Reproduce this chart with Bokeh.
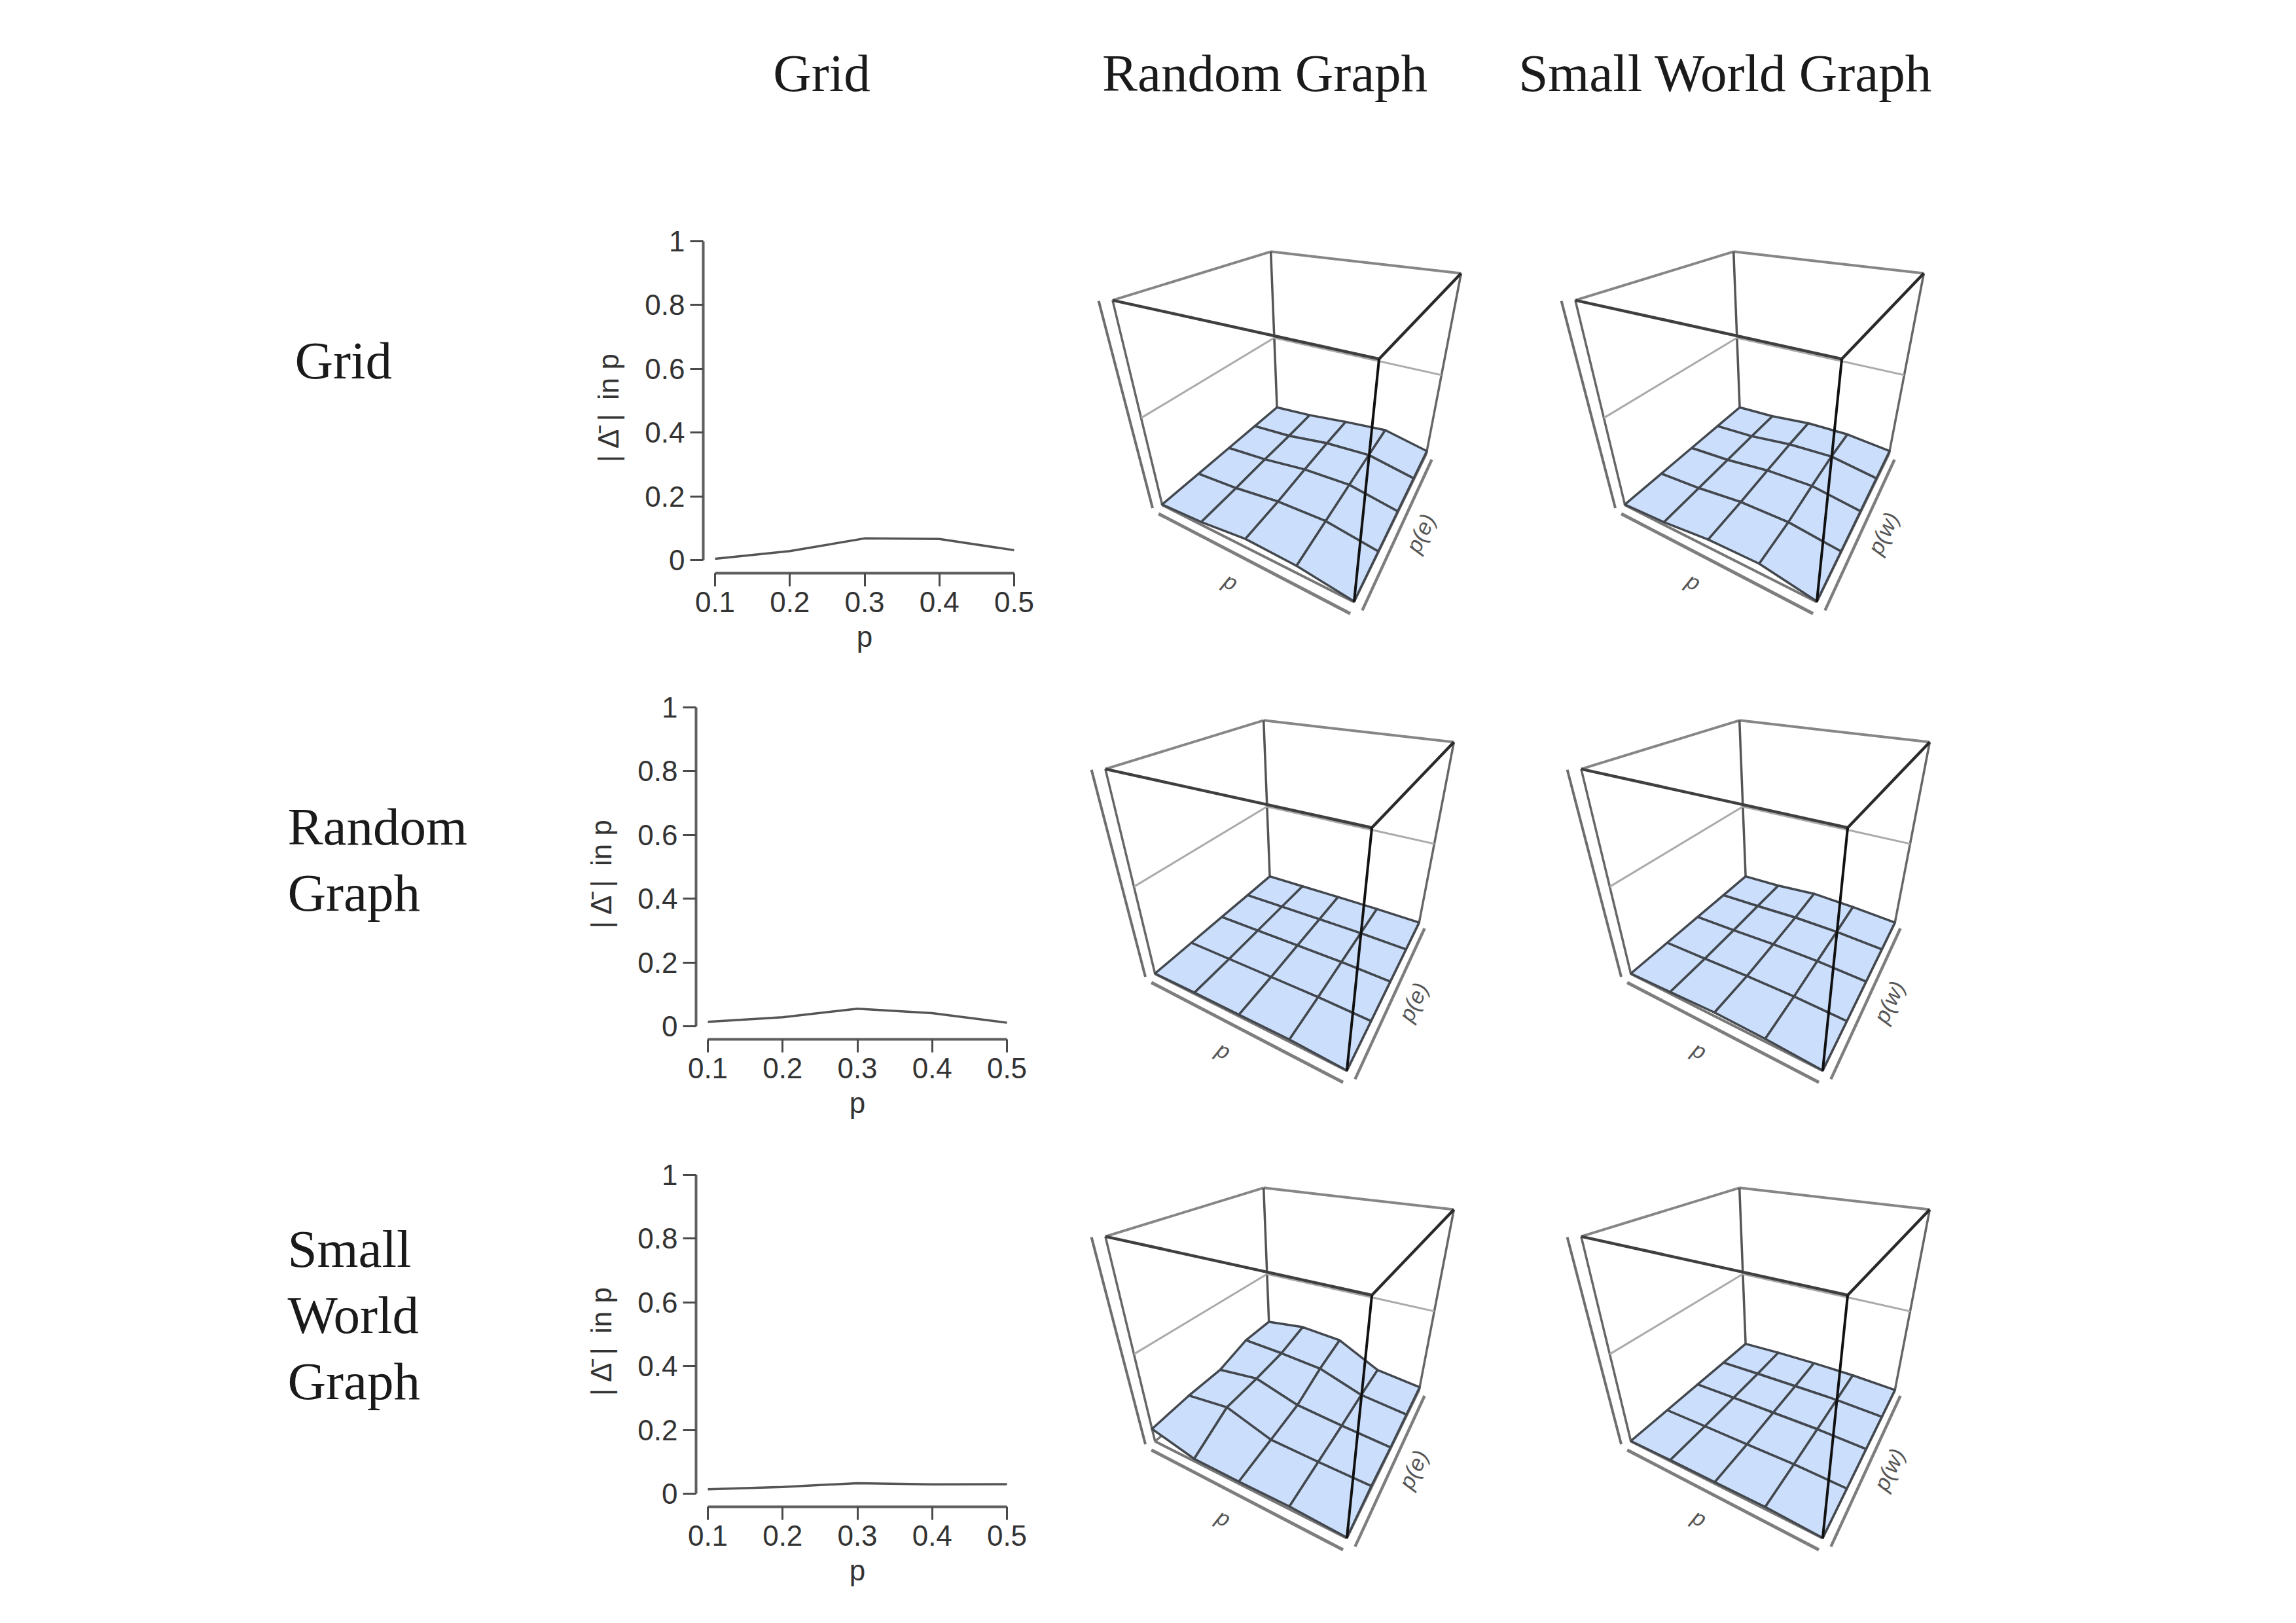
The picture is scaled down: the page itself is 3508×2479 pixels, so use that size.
import numpy as np
from bokeh.embed import file_html
from bokeh.resources import INLINE
from bokeh.plotting import figure
from bokeh.layouts import column, row
from bokeh.models import FixedTicker, Range1d
from bokeh.core.properties import value

# ---------- data ----------
GRAPHS = ["Grid", "Random Graph", "Small World Graph"]
ROW_LABELS = [["Grid"], ["Random", "Graph"], ["Small", "World", "Graph"]]
P_VALUES = [0.1, 0.2, 0.3, 0.4, 0.5]
Y_TICKS = [0, 0.2, 0.4, 0.6, 0.8, 1]
Y_TICK_LABELS = ["0", "0.2", "0.4", "0.6", "0.8", "1"]

LINE_GRID = [0.004, 0.028, 0.068, 0.066, 0.031]
LINE_RANDOM = [0.014, 0.028, 0.055, 0.041, 0.011]
LINE_SMALL = [0.014, 0.021, 0.033, 0.029, 0.030]

# rows: second parameter (0 -> 1 along the depth axis); columns: p
Z_GRID_RANDOM = [[.004, .020, .054, .044, .004],
                 [.004, .018, .049, .054, .008],
                 [.004, .021, .055, .063, .013],
                 [.004, .019, .057, .071, .018],
                 [.004, .022, .053, .078, .022]]
Z_GRID_SMALL = [[.004, .019, .050, .057, .004],
                [.004, .018, .046, .047, .008],
                [.004, .017, .048, .056, .013],
                [.004, .016, .049, .061, .018],
                [.004, .014, .043, .048, .022]]
Z_RANDOM_RANDOM = [[.002, .008, .010, .014, .002],
                   [.002, .004, .006, .008, .002],
                   [.002, .004, .006, .008, .003],
                   [.002, .004, .006, .007, .003],
                   [.002, .004, .006, .006, .003]]
Z_RANDOM_SMALL = [[.002, .012, .024, .018, .002],
                  [.002, .006, .012, .012, .002],
                  [.002, .006, .014, .014, .003],
                  [.002, .008, .018, .016, .003],
                  [.002, .009, .030, .020, .003]]
Z_SMALL_RANDOM = [[.080, .016, .014, .017, .004],
                  [.100, .128, .036, .025, .018],
                  [.105, .136, .059, .033, .013],
                  [.165, .152, .131, .046, .018],
                  [.170, .200, .180, .052, .022]]
Z_SMALL_SMALL = [[.002, .008, .010, .014, .002],
                 [.002, .005, .007, .010, .002],
                 [.002, .006, .008, .010, .003],
                 [.002, .007, .010, .012, .003],
                 [.002, .012, .016, .014, .003]]

# ---------- layout ----------
SERIF = "Liberation Serif"
SANS = "Liberation Sans"
FILL = "#CBDFFC"
ROW_H = 716
ROW_TOPS = [300, 1016, 1732]
HEADER_TOP = 8
SURF_COL_X = [1640, 2330, 3100]

# cube corners of the top-middle panel on the page: (u, v, z)->(x, y)
CUBE_WORLD = [(0, 0, 0), (1, 0, 0), (1, 1, 0), (0, 1, 0),
              (0, 0, 1), (1, 0, 1), (1, 1, 1), (0, 1, 1)]
CUBE_PAGE = [(1784.0, 778.6), (2074.8, 928.2), (2187.4, 699.4), (1958.3, 631.7),
             (1707.7, 465.3), (2115.0, 555.9), (2239.9, 426.3), (1948.7, 391.3)]


def fit_camera(world, page):
    rows_, rhs = [], []
    for (u, v, z), (x, y) in zip(world, page):
        rows_.append([u, v, z, 1, 0, 0, 0, 0, -x * u, -x * v, -x * z]); rhs.append(x)
        rows_.append([0, 0, 0, 0, u, v, z, 1, -y * u, -y * v, -y * z]); rhs.append(y)
    sol = np.linalg.lstsq(np.array(rows_, float), np.array(rhs, float), rcond=None)[0]
    return np.append(sol, 1.0).reshape(3, 4)


CAMERA = fit_camera(CUBE_WORLD, CUBE_PAGE)


def project(u, v, z, dx=0.0, dy=0.0):
    h = CAMERA @ np.array([u, v, z, 1.0])
    return h[0] / h[2] + dx, h[1] / h[2] + dy


def blank(x0, x1, y0, y1):
    p = figure(width=int(x1 - x0), height=int(y1 - y0), output_backend="svg",
               toolbar_location=None, x_axis_location=None, y_axis_location=None,
               x_range=Range1d(x0, x1), y_range=Range1d(y1, y0),
               min_border=0, outline_line_color=None, background_fill_color=None,
               border_fill_color=None)
    p.grid.visible = False
    return p


def seg(p, a, b, dx, dy, color, width):
    pa, pb = project(*a, dx, dy), project(*b, dx, dy)
    p.line([pa[0], pb[0]], [pa[1], pb[1]], line_color=color, line_width=width)


def surface_panel(zs, depth_label, x0, x1, y0, y1, dx, dy):
    p = blank(x0, x1, y0, y1)
    # outer axes
    seg(p, (-.035, -.03, -.01), (-.035, -.03, 1.0), dx, dy, "#6E6E6E", 4)
    seg(p, (0, -.03, -.03), (1, -.03, -.03), dx, dy, "#7E7E7E", 5)
    seg(p, (1.035, 0, -.025), (1.035, 1, -.025), dx, dy, "#7E7E7E", 4.5)
    # back of the box
    seg(p, (0, 0, 1), (0, 1, 1), dx, dy, "#868686", 4)
    seg(p, (0, 1, 1), (1, 1, 1), dx, dy, "#868686", 4)
    seg(p, (0, 0, 0), (0, 0, 1), dx, dy, "#666666", 3.5)
    seg(p, (0, 1, 0), (0, 1, 1), dx, dy, "#555555", 3.5)
    seg(p, (1, 1, 0), (1, 1, 1), dx, dy, "#666666", 3.5)
    # floor of the box
    seg(p, (0, 0, 0), (1, 0, 0), dx, dy, "#777777", 4)
    seg(p, (1, 0, 0), (1, 1, 0), dx, dy, "#777777", 3.5)
    seg(p, (1, 1, 0), (0, 1, 0), dx, dy, "#777777", 3.5)
    seg(p, (0, 1, 0), (0, 0, 0), dx, dy, "#777777", 3.5)
    # mid level reference line on the back walls
    seg(p, (0, 0, .5), (0, 1, .5), dx, dy, "#AAAAAA", 3)
    seg(p, (0, 1, .5), (1, 1, .5), dx, dy, "#AAAAAA", 3)
    # surface, back to front
    zarr = np.array(zs, float)
    n = zarr.shape[0]
    xs, ys = [], []
    for j in range(n - 2, -1, -1):
        for i in range(n - 1):
            corners = [(i, j), (i + 1, j), (i + 1, j + 1), (i, j + 1)]
            pts = [project(a / (n - 1), b / (n - 1), zarr[b, a], dx, dy) for a, b in corners]
            xs.append([c[0] for c in pts])
            ys.append([c[1] for c in pts])
    p.patches(xs, ys, fill_color=FILL, line_color="#43474E", line_width=3.5, line_join="round")
    # front of the box
    seg(p, (0, 0, 1), (1, 0, 1), dx, dy, "#3F3F3F", 4.5)
    seg(p, (1, 0, 1), (1, 1, 1), dx, dy, "#2A2A2A", 4.5)
    seg(p, (1, 0, 0), (1, 0, 1), dx, dy, "#111111", 4)
    # axis names
    p.text([1888 + dx], [896 + dy], text=["p"], angle=-0.48, text_align="center",
           text_baseline="middle", text_font=value(SANS), text_font_style="italic",
           text_font_size="34px", text_color="#555555")
    p.text([2178 + dx], [822 + dy], text=[depth_label], angle=1.126, text_align="center",
           text_baseline="middle", text_font=value(SANS), text_font_style="italic",
           text_font_size="34px", text_color="#555555")
    return p


def line_panel(values, left, top, frame_left, frame_top, x1):
    bottom = top + ROW_H
    frame_bottom = frame_top + 507
    frame_w = 493
    p = figure(width=x1 - left, height=ROW_H, output_backend="svg", toolbar_location=None,
               x_range=Range1d(0.08424, 0.51576), y_range=Range1d(-0.0411, 1.0),
               min_border_left=frame_left - left, min_border_right=x1 - frame_left - frame_w,
               min_border_top=frame_top - top, min_border_bottom=bottom - frame_bottom,
               outline_line_color=None, background_fill_color=None, border_fill_color=None,
               x_axis_label="p", y_axis_label="| \u0394\u0304 | \u2009in p")
    p.grid.visible = False
    p.line(P_VALUES, values, line_color="#555555", line_width=3.5)
    xa, ya = p.xaxis[0], p.yaxis[0]
    xa.ticker = FixedTicker(ticks=P_VALUES)
    xa.major_label_overrides = {v: f"{v:.1f}" for v in P_VALUES}
    xa.bounds = (P_VALUES[0], P_VALUES[-1])
    ya.ticker = FixedTicker(ticks=Y_TICKS)
    ya.major_label_overrides = dict(zip(Y_TICKS, Y_TICK_LABELS))
    ya.bounds = (0, 1)
    for ax in (xa, ya):
        ax.axis_line_color = "#5E5E5E"
        ax.axis_line_width = 4
        ax.major_tick_line_color = "#4A4A4A"
        ax.major_tick_line_width = 3
        ax.major_tick_in = 0
        ax.major_tick_out = 20
        ax.minor_tick_line_color = None
        ax.major_label_text_font = SANS
        ax.major_label_text_font_size = "44px"
        ax.major_label_text_color = "#333333"
        ax.major_label_standoff = 8
        ax.axis_label_text_font = SANS
        ax.axis_label_text_font_size = "44px"
        ax.axis_label_text_font_style = "normal"
        ax.axis_label_text_color = "#333333"
        ax.axis_label_standoff = 10
    ya.axis_label_standoff = 28
    ya.major_label_orientation = "horizontal"
    return p


# ---------- assemble ----------
header = blank(HEADER_TOP, 3400, HEADER_TOP, ROW_TOPS[0])
header.text([1263, 1940, 2644], [119, 119, 119], text=GRAPHS, text_align="center",
            text_baseline="alphabetic", text_font=value(SERIF), text_font_size="81px",
            text_color="#1a1a1a")

ROW_LABEL_X = [458, 447, 447]
ROW_BASELINES = [[558], [1270, 1371], [1915, 2016, 2117]]
FRAME_LEFTS = [1082, 1071, 1071]
FRAME_TOPS = [376, 1088, 1802]
LINE_FIG_LEFTS = [860, 851, 851]
LINES = [LINE_GRID, LINE_RANDOM, LINE_SMALL]
Z_TABLES = [[Z_GRID_RANDOM, Z_GRID_SMALL], [Z_RANDOM_RANDOM, Z_RANDOM_SMALL],
            [Z_SMALL_RANDOM, Z_SMALL_SMALL]]
COL2_SHIFT = [(0, 0), (-11, 716), (-11, 1430)]
COL3_SHIFT = [(707, 0), (716, 716), (716, 1430)]

rows = [header]
for r in range(3):
    top = ROW_TOPS[r]
    fl = LINE_FIG_LEFTS[r]
    lab = blank(HEADER_TOP, fl, top, top + ROW_H)
    lab.text([ROW_LABEL_X[r]] * len(ROW_LABELS[r]), ROW_BASELINES[r], text=ROW_LABELS[r],
             text_align="left", text_baseline="alphabetic", text_font=value(SERIF),
             text_font_size="81px", text_color="#1a1a1a")
    lp = line_panel(LINES[r], fl, top, FRAME_LEFTS[r], FRAME_TOPS[r], SURF_COL_X[0])
    s1 = surface_panel(Z_TABLES[r][0], "p(e)", SURF_COL_X[0], SURF_COL_X[1], top, top + ROW_H, *COL2_SHIFT[r])
    s2 = surface_panel(Z_TABLES[r][1], "p(w)", SURF_COL_X[1], SURF_COL_X[2], top, top + ROW_H, *COL3_SHIFT[r])
    # one-child columns keep each figure's frame independent of its neighbours
    rows.append(row(column(lab), column(lp), column(s1), column(s2)))

page = column(*rows)
open("out.html", "w").write(file_html(page, INLINE))
